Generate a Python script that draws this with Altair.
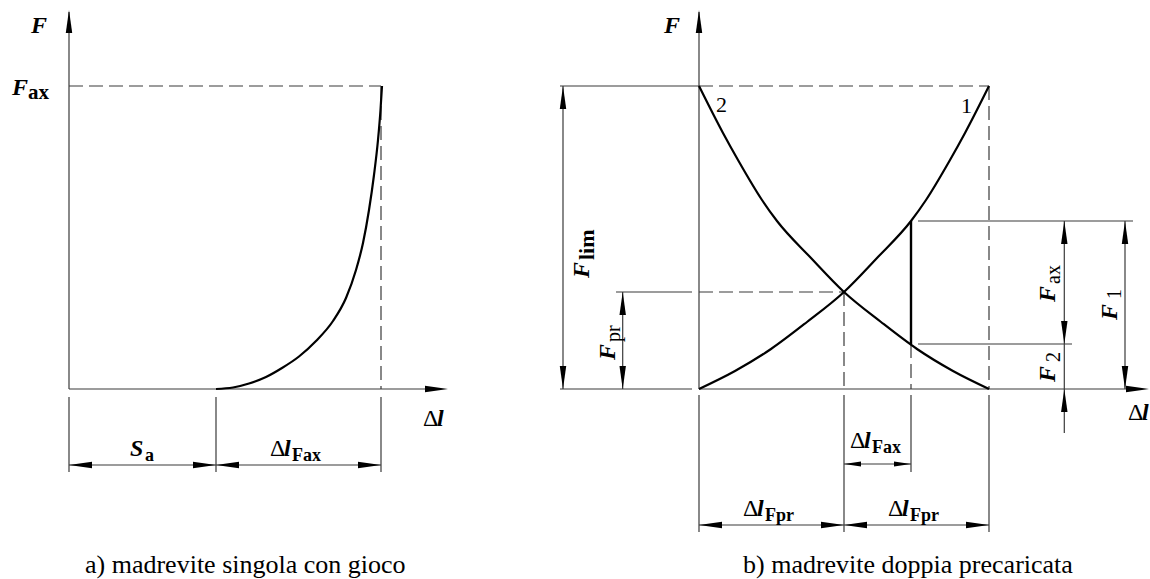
import altair as alt
import pandas as pd

W, H = 1150, 579
FONT = "Liberation Serif"

# ---------------- geometry of the two diagrams (drawing units) ----------------
# a) single nut with backlash: load F against axial displacement Δl
a_curve_x = [216, 233, 249, 266, 282, 299, 316, 333, 346, 356, 363, 369, 374, 378, 380.5, 382]
a_curve_y = [389, 387.5, 383.5, 377, 368, 356.5, 341, 321, 298, 270, 243, 210, 175, 140, 110, 86]

# b) preloaded double nut: nut 1 (rising) and nut 2 (falling)
b_curve1_x = [699, 735, 771, 807, 844, 877, 911, 926, 950, 965, 989]
b_curve1_y = [389, 371, 349, 322, 292, 258, 221, 200, 160, 133, 86]
b_curve2_x = [699, 723, 738, 762, 777, 811, 844, 881, 917, 953, 989]
b_curve2_y = [86, 133, 160, 200, 221, 258, 292, 322, 349, 371, 389]

# thin solid segments: x1, y1, x2, y2
solid_segments = [
    (69, 12, 69, 389), (69, 389, 430, 389),                        # axes a
    (69, 397, 69, 472), (216, 397, 216, 472), (381, 397, 381, 472),  # extension lines a
    (69, 465, 381, 465),                                           # S_a | Δl_Fax
    (699, 12, 699, 389), (699, 389, 1130, 389),                    # axes b
    (560, 86, 699, 86), (560, 389, 692, 389), (616, 292, 692, 292),
    (563, 86, 563, 389),                                           # F_lim
    (622.7, 292, 622.7, 389),                                      # F_pr
    (699, 395, 699, 532), (844, 395, 844, 532), (989, 395, 989, 532),
    (911, 395, 911, 472),
    (844, 464, 911, 464),                                          # Δl_Fax
    (699, 525, 989, 525),                                          # Δl_Fpr | Δl_Fpr
    (918, 221, 1133, 221), (918, 344, 1072, 344),
    (1064.3, 221, 1064.3, 433),                                    # F_ax, F_2
    (1125, 221, 1125, 389),                                        # F_1
]
dashed_segments = [
    (69, 86, 381, 86), (381, 86, 381, 389),
    (699, 86, 989, 86), (989, 86, 989, 389),
    (699, 292, 844, 292), (844, 292, 844, 389),
    (911, 344, 911, 389),
]
thick_segments = [(911, 221, 911, 344)]

# arrowheads: tip x, tip y, direction (0 up, 90 right, 180 down, 270 left), kind
arrow_x = [69, 448, 69, 216, 216, 381,
           699, 1149, 563, 563, 622.7, 622.7, 844, 911,
           699, 844, 844, 989, 1064.3, 1064.3, 1064.3, 1125, 1125]
arrow_y = [10, 389, 465, 465, 465, 465,
           10, 389, 86, 389, 292, 389, 464, 464,
           525, 525, 525, 525, 221, 344, 389, 221, 389]
arrow_dir = [0, 90, 270, 90, 270, 90,
             0, 90, 0, 180, 0, 180, 270, 90,
             270, 90, 270, 90, 0, 180, 0, 0, 180]
arrow_kind = ["long"] * 12 + ["short", "short"] + ["long"] * 9

# labels: text, x, y, rotation, style, role
labels = [
    ("F", 31, 33, 0, "bi", "sym"),
    ("F", 12, 95, 0, "bi", "sym"), ("ax", 28, 99, 0, "b", "subbig"),
    ("Δ", 423, 426, 0, "r", "sym"), ("l", 437, 426, 0, "bi", "sym"),
    ("S", 130, 456, 0, "bi", "sym"), ("a", 145, 461, 0, "b", "sub"),
    ("Δ", 270, 456, 0, "r", "sym"), ("l", 284, 456, 0, "bi", "sym"), ("Fax", 292, 461, 0, "b", "sub"),
    ("a) madrevite singola con gioco", 85, 573, 0, "r", "cap"),
    ("F", 664, 33, 0, "bi", "sym"),
    ("2", 716, 112, 0, "r", "num"), ("1", 961, 113, 0, "r", "num"),
    ("F", 589, 278, 270, "bi", "sym"), ("lim", 594, 260, 270, "b", "sublim"),
    ("F", 615, 360, 270, "bi", "sym"), ("pr", 620, 342, 270, "r", "subr"),
    ("F", 1055, 302, 270, "bi", "sym"), ("ax", 1060, 284, 270, "r", "subr"),
    ("F", 1117, 320, 270, "bi", "sym"), ("1", 1121, 299, 270, "r", "subr"),
    ("F", 1055, 382, 270, "bi", "sym"), ("2", 1060, 362, 270, "r", "subr"),
    ("Δ", 1128, 420, 0, "r", "sym"), ("l", 1142, 420, 0, "bi", "sym"),
    ("Δ", 850, 448, 0, "r", "sym"), ("l", 864, 448, 0, "bi", "sym"), ("Fax", 872, 453, 0, "b", "sub"),
    ("Δ", 743, 516, 0, "r", "sym"), ("l", 757, 516, 0, "bi", "sym"), ("Fpr", 765, 521, 0, "b", "sub"),
    ("Δ", 888, 516, 0, "r", "sym"), ("l", 902, 516, 0, "bi", "sym"), ("Fpr", 910, 521, 0, "b", "sub"),
    ("b) madrevite doppia precaricata", 743, 573, 0, "r", "cap"),
]

# ---------------- styling ----------------
role_size = {"sym": 24, "sub": 18, "subbig": 21, "sublim": 22, "subr": 20, "num": 22, "cap": 26}
arrow_len = {"long": 23, "short": 17}
INK = "#000000"
THIN = "#3a3a3a"

xs = alt.Scale(domain=[0, W], nice=False, zero=False)
ys = alt.Scale(domain=[0, H], nice=False, zero=False, reverse=True)


def seg_frame(segs):
    return pd.DataFrame(segs, columns=["x", "y", "x2", "y2"])


def rules(segs, **mark):
    return alt.Chart(seg_frame(segs)).mark_rule(**mark).encode(
        x=alt.X("x:Q", scale=xs, axis=None),
        y=alt.Y("y:Q", scale=ys, axis=None),
        x2="x2:Q",
        y2="y2:Q",
    )


thin = rules(solid_segments, color=THIN, strokeWidth=1.2)
dashed = rules(dashed_segments, color=THIN, strokeWidth=1.2, strokeDash=[14, 6])
thick = rules(thick_segments, color=INK, strokeWidth=2.4)

curve_rows = []
for name, cx, cy in [("a", a_curve_x, a_curve_y),
                     ("b1", b_curve1_x, b_curve1_y),
                     ("b2", b_curve2_x, b_curve2_y)]:
    for i, (px, py) in enumerate(zip(cx, cy)):
        curve_rows.append({"curve": name, "i": i, "x": px, "y": py})
curves = alt.Chart(pd.DataFrame(curve_rows)).mark_line(
    color=INK, strokeWidth=2.2, interpolate="monotone"
).encode(
    x=alt.X("x:Q", scale=xs, axis=None),
    y=alt.Y("y:Q", scale=ys, axis=None),
    detail="curve:N",
    order="i:Q",
)

arrows_df = pd.DataFrame({"x": arrow_x, "y": arrow_y, "dir": arrow_dir, "kind": arrow_kind})
arrows_df["size"] = arrows_df["kind"].map(lambda k: arrow_len[k] ** 2)
# narrow filled arrowhead with its tip at the symbol origin, pointing up
ARROW_PATH = "M0,0L-0.28,2L0.28,2Z"
arrows = alt.Chart(arrows_df).mark_point(
    shape=ARROW_PATH, filled=True, color=INK, opacity=1, strokeWidth=0
).encode(
    x=alt.X("x:Q", scale=xs, axis=None),
    y=alt.Y("y:Q", scale=ys, axis=None),
    angle=alt.Angle("dir:Q", scale=None),
    size=alt.Size("size:Q", scale=None, legend=None),
)

lab_df = pd.DataFrame(labels, columns=["text", "x", "y", "rot", "style", "role"])
lab_df["fs"] = lab_df["role"].map(role_size)

style_props = {
    "bi": dict(fontWeight="bold", fontStyle="italic"),
    "b": dict(fontWeight="bold", fontStyle="normal"),
    "r": dict(fontWeight="normal", fontStyle="normal"),
}
text_layers = []
for st, props in style_props.items():
    text_layers.append(
        alt.Chart(lab_df[lab_df["style"] == st]).mark_text(
            font=FONT, align="left", baseline="alphabetic", color=INK, **props
        ).encode(
            x=alt.X("x:Q", scale=xs, axis=None),
            y=alt.Y("y:Q", scale=ys, axis=None),
            text="text:N",
            angle=alt.Angle("rot:Q", scale=None),
            size=alt.Size("fs:Q", scale=None, legend=None),
        )
    )

chart = alt.layer(thin, dashed, thick, curves, arrows, *text_layers).properties(
    width=W, height=H, background="white",
    autosize=alt.AutoSizeParams(type="none"), padding=0,
).configure_view(stroke=None)

chart.save("out.html", embed_options={"renderer": "svg", "actions": False})
